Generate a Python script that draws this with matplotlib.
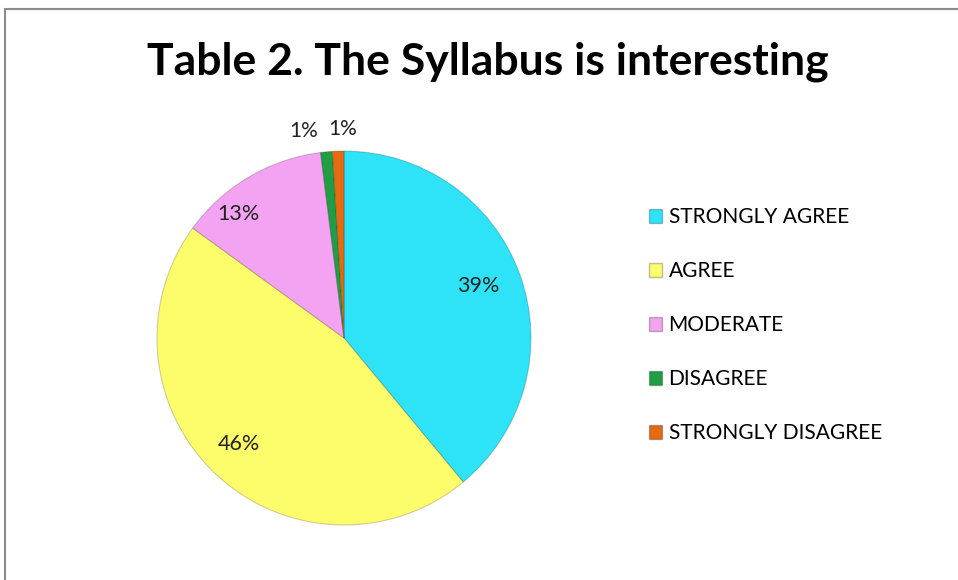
import numpy as np
import matplotlib.pyplot as plt
from matplotlib.patches import Patch, Rectangle

categories = ['STRONGLY AGREE', 'AGREE', 'MODERATE', 'DISAGREE', 'STRONGLY DISAGREE']
values = [39, 46, 13, 1, 1]
colors = ['#2ee3f7', '#fdfd6c', '#f4a3f2', '#1f9e45', '#e36c12']

plt.rcParams['font.family'] = ['Lato', 'DejaVu Sans']

fig = plt.figure(figsize=(9.58, 5.8), dpi=100)

# outer chart frame (runs off the right/bottom edge like the screenshot)
fig.patches.append(Rectangle((5 / 958, -0.1), 1.2, 0.1 + 1 - 9 / 580,
                             transform=fig.transFigure, fill=False,
                             edgecolor='#8c8c8c', linewidth=1.5))

W, H = 958, 580
cx, cy, r = 344, 338, 187
ax = fig.add_axes([(cx - r) / W, (H - cy - r) / H, 2 * r / W, 2 * r / H])
wedges, _ = ax.pie(values, colors=colors, startangle=90, counterclock=False,
                   radius=1, wedgeprops=dict(edgecolor='#00000030', linewidth=0.8))
ax.set_xlim(-1, 1)
ax.set_ylim(-1, 1)
ax.set_aspect('equal')
ax.axis('off')

# percentage labels: distance from centre and angle shift (deg) per slice
dist = [0.77, 0.80, 0.87, 1.13, 1.12]
shift = [1.5, -1.5, 10, 5.5, -1.5]
for w, v, d, s in zip(wedges, values, dist, shift):
    ang = np.deg2rad((w.theta1 + w.theta2) / 2 + s)
    ax.text(d * np.cos(ang), d * np.sin(ang), f'{v}%', ha='center', va='center',
            fontsize=15 if v <= 1 else 15.5, color='#222222', clip_on=False)

fig.text(488 / W, 1 - 62 / H, 'Table 2. The Syllabus is interesting',
         ha='center', va='center', fontsize=32, fontweight='bold')

handles = [Patch(facecolor=c, edgecolor='#00000040') for c in colors]
fig.legend(handles, categories, loc='center left', bbox_to_anchor=(630 / W, 1 - 325 / H),
           frameon=False, fontsize=15, handlelength=0.65, handleheight=0.65,
           handletextpad=0.3, labelspacing=1.63)

fig.savefig('out.png', dpi=100)
